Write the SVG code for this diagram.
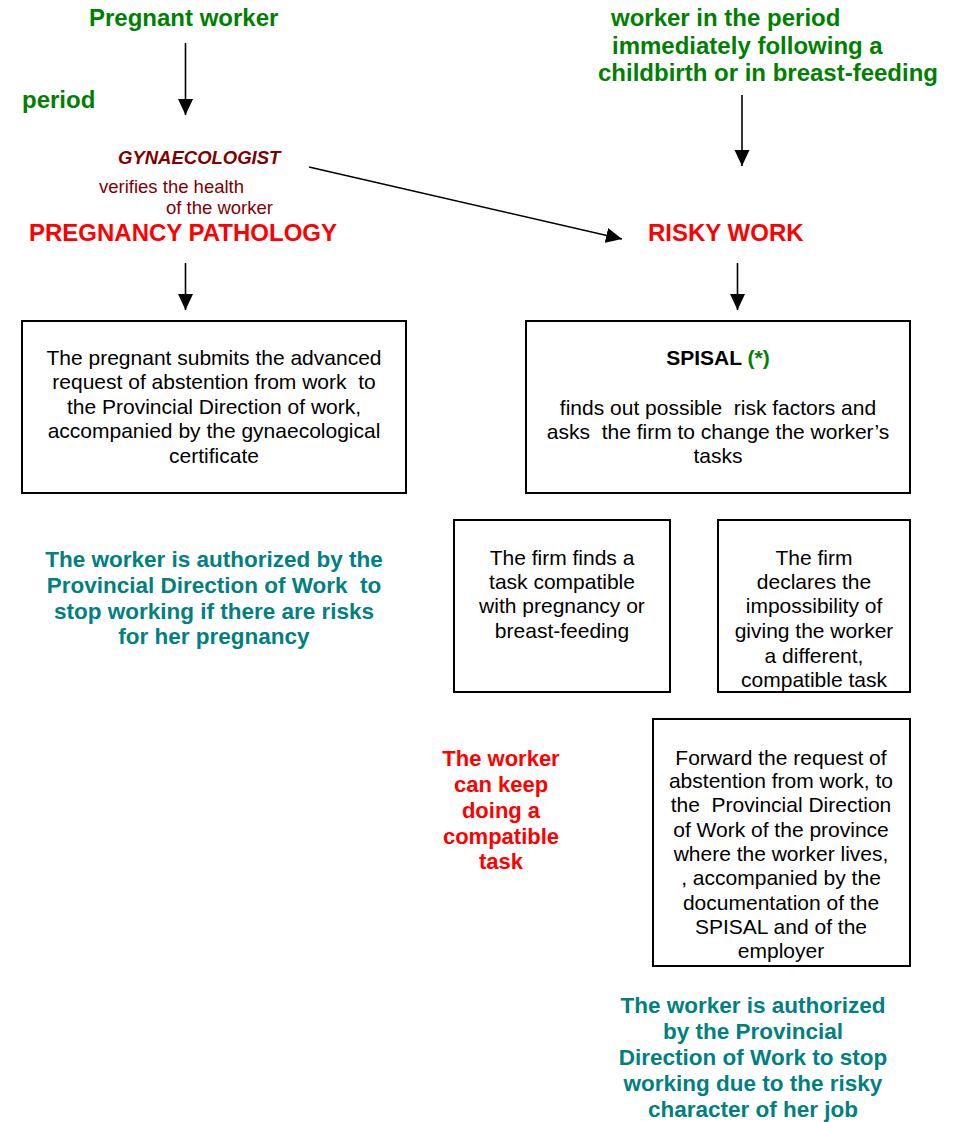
<svg xmlns="http://www.w3.org/2000/svg" width="958" height="1122" viewBox="0 0 958 1122">
<style>
text{font-family:"Liberation Sans",Arial,sans-serif}
.g{fill:#008000;font-weight:bold;font-size:24px}
.r{fill:#ff0000;font-weight:bold;font-size:24px}
.dr{fill:#800000}
.t{fill:#008080;font-weight:bold;font-size:22.5px;text-anchor:middle}
.rr{fill:#ff0000;font-weight:bold;font-size:22px;text-anchor:middle}
.b{fill:#000;font-size:21px;text-anchor:middle}
.box{fill:#fff;stroke:#000;stroke-width:2}
.c{stroke:#000;stroke-width:1.6;fill:none;marker-end:url(#ah)}
</style>
<defs>
<marker id="ah" markerUnits="userSpaceOnUse" markerWidth="18" markerHeight="16" refX="16" refY="7.5" orient="auto">
<path d="M0,0 L16,7.5 L0,15 Z" fill="#000"/>
</marker>
</defs>
<rect width="958" height="1122" fill="#fff"/>

<g id="connectors">
<line class="c" x1="185.5" y1="43" x2="185.5" y2="115"/>
<line class="c" x1="185.5" y1="263" x2="185.5" y2="310"/>
<line class="c" x1="742" y1="95" x2="742" y2="166"/>
<line class="c" x1="737.5" y1="263" x2="737.5" y2="310"/>
<line class="c" x1="309" y1="167" x2="622" y2="239"/>
</g>

<g id="pregnant-worker">
<text class="g" x="89" y="26">Pregnant worker</text>
</g>
<g id="period">
<text class="g" x="22" y="108">period</text>
</g>
<g id="gynaecologist">
<text class="dr" x="118" y="164" font-size="18.5" font-weight="bold" font-style="italic">GYNAECOLOGIST</text>
<text class="dr" x="99" y="193" font-size="18.5">verifies the health</text>
<text class="dr" x="166" y="214" font-size="18.5">of the worker</text>
</g>
<g id="pregnancy-pathology">
<text class="r" x="29" y="241">PREGNANCY PATHOLOGY</text>
</g>
<g id="post-childbirth-worker">
<text class="g" x="611" y="26">worker in the period</text>
<text class="g" x="612" y="54">immediately following a</text>
<text class="g" x="598" y="81">childbirth or in breast-feeding</text>
</g>
<g id="risky-work">
<text class="r" x="648" y="241">RISKY WORK</text>
</g>

<g id="request-box">
<rect class="box" x="22" y="321" width="384" height="172"/>
<text class="b" x="214" y="365">The pregnant submits the advanced</text>
<text class="b" x="214" y="389" xml:space="preserve">request of abstention from work  to</text>
<text class="b" x="214" y="414">the Provincial Direction of work,</text>
<text class="b" x="214" y="438">accompanied by the gynaecological</text>
<text class="b" x="214" y="463">certificate</text>
</g>

<g id="spisal-box">
<rect class="box" x="526" y="321" width="384" height="172"/>
<text class="b" x="718" y="365" font-weight="bold">SPISAL <tspan fill="#008000">(*)</tspan></text>
<text class="b" x="718" y="415" xml:space="preserve">finds out possible  risk factors and</text>
<text class="b" x="718" y="439" xml:space="preserve">asks  the firm to change the worker’s</text>
<text class="b" x="718" y="463">tasks</text>
</g>

<g id="authorized-pregnancy">
<text class="t" x="214" y="567">The worker is authorized by the</text>
<text class="t" x="214" y="593" xml:space="preserve">Provincial Direction of Work  to</text>
<text class="t" x="214" y="619">stop working if there are risks</text>
<text class="t" x="214" y="644">for her pregnancy</text>
</g>

<g id="compatible-task-box">
<rect class="box" x="454" y="520" width="216" height="172"/>
<text class="b" x="562" y="565">The firm finds a</text>
<text class="b" x="562" y="589">task compatible</text>
<text class="b" x="562" y="613">with pregnancy or</text>
<text class="b" x="562" y="638">breast-feeding</text>
</g>

<g id="impossibility-box">
<rect class="box" x="718" y="520" width="192" height="172"/>
<text class="b" x="814" y="565">The firm</text>
<text class="b" x="814" y="589">declares the</text>
<text class="b" x="814" y="613">impossibility of</text>
<text class="b" x="814" y="638">giving the worker</text>
<text class="b" x="814" y="663">a different,</text>
<text class="b" x="814" y="687">compatible task</text>
</g>

<g id="keep-working">
<text class="rr" x="501" y="766">The worker</text>
<text class="rr" x="501" y="792">can keep</text>
<text class="rr" x="501" y="818">doing a</text>
<text class="rr" x="501" y="844">compatible</text>
<text class="rr" x="501" y="869">task</text>
</g>

<g id="forward-box">
<rect class="box" x="653" y="719" width="257" height="247"/>
<text class="b" x="781" y="765">Forward the request of</text>
<text class="b" x="781" y="788">abstention from work, to</text>
<text class="b" x="781" y="812" xml:space="preserve">the  Provincial Direction</text>
<text class="b" x="781" y="837">of Work of the province</text>
<text class="b" x="781" y="861">where the worker lives,</text>
<text class="b" x="781" y="885">, accompanied by the</text>
<text class="b" x="781" y="910">documentation of the</text>
<text class="b" x="781" y="934">SPISAL and of the</text>
<text class="b" x="781" y="958">employer</text>
</g>

<g id="authorized-risky">
<text class="t" x="753" y="1013">The worker is authorized</text>
<text class="t" x="753" y="1039">by the Provincial</text>
<text class="t" x="753" y="1065">Direction of Work to stop</text>
<text class="t" x="753" y="1091">working due to the risky</text>
<text class="t" x="753" y="1117">character of her job</text>
</g>
</svg>
